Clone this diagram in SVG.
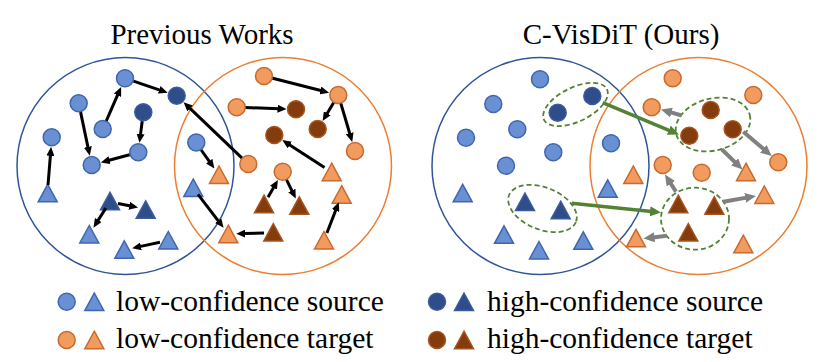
<svg xmlns="http://www.w3.org/2000/svg" xmlns:xlink="http://www.w3.org/1999/xlink" width="830" height="362" viewBox="0 0 830 362">
<style>
text{font-family:"Liberation Serif","Times New Roman",serif;fill:#000}
.title{font-size:29px;text-anchor:middle}
.leg{font-size:29.5px}
.bigb{fill:none;stroke:#2F5597;stroke-width:1.5}
.bigo{fill:none;stroke:#ED7D31;stroke-width:1.5}
.lb{fill:#6A90D4;stroke:#3F66AE;stroke-width:1.5}
.db{fill:#2F4D89;stroke:#3A5C9C;stroke-width:1.5}
.lo{fill:#F29B5E;stroke:#C8692D;stroke-width:1.5}
.br{fill:#843C0C;stroke:#A4541F;stroke-width:1.5}
.blk{stroke:#000;stroke-width:3;fill:none;marker-end:url(#ahb)}
.gry{stroke:#808080;stroke-width:4;fill:none;marker-end:url(#ahg)}
.grn{stroke:#548235;stroke-width:3.5;fill:none;marker-end:url(#ahgr)}
.dash{fill:none;stroke:#548235;stroke-width:1.8;stroke-dasharray:5 3}
</style>
<defs>
<path id="tri" d="M0,-9 L9.5,8.5 L-9.5,8.5 Z"/>
<marker id="ahb" markerUnits="userSpaceOnUse" markerWidth="9" markerHeight="8" refX="1.5" refY="4" orient="auto"><path d="M0,0 L9,4 L0,8 Z" fill="#000"/></marker>
<marker id="ahg" markerUnits="userSpaceOnUse" markerWidth="11" markerHeight="10" refX="1.5" refY="5" orient="auto"><path d="M0,0 L11,5 L0,10 Z" fill="#808080"/></marker>
<marker id="ahgr" markerUnits="userSpaceOnUse" markerWidth="11" markerHeight="10" refX="1.5" refY="5" orient="auto"><path d="M0,0 L11,5 L0,10 Z" fill="#548235"/></marker>
</defs>
<rect width="830" height="362" fill="#fff"/>

<text class="title" x="202" y="44">Previous Works</text>
<text class="title" x="621" y="44">C-VisDiT (Ours)</text>

<g id="domains">
<circle class="bigb" cx="125.5" cy="166" r="108.5"/>
<circle class="bigo" cx="283" cy="166" r="108.5"/>
<circle class="bigb" cx="540.5" cy="166" r="108.5"/>
<circle class="bigo" cx="698.5" cy="166" r="108.5"/>
</g>

<g id="left-nodes">
<g id="L1"><circle class="lb" cx="125" cy="78.3" r="8.5"/></g>
<g id="L2"><circle class="db" cx="176.7" cy="95.7" r="8.5"/></g>
<g id="L3"><circle class="lb" cx="78.7" cy="103.3" r="8.5"/></g>
<g id="L4"><circle class="lb" cx="102.7" cy="129" r="8.5"/></g>
<g id="L5"><circle class="db" cx="143.3" cy="112.3" r="8.5"/></g>
<g id="L6"><circle class="lb" cx="51.7" cy="137.3" r="8.5"/></g>
<g id="L7"><circle class="lb" cx="138.3" cy="152.3" r="8.5"/></g>
<g id="L8"><circle class="lb" cx="91.7" cy="165" r="8.5"/></g>
<g id="L9"><circle class="lb" cx="196.3" cy="142.5" r="8.5"/></g>
<g id="L10"><use href="#tri" class="lb" x="47.7" y="193.3"/></g>
<g id="L11"><use href="#tri" class="db" x="110" y="201.3"/></g>
<g id="L12"><use href="#tri" class="db" x="145.7" y="209.8"/></g>
<g id="L13"><use href="#tri" class="lb" x="89.3" y="234.5"/></g>
<g id="L14"><use href="#tri" class="lb" x="168.3" y="240.5"/></g>
<g id="L15"><use href="#tri" class="lb" x="124.3" y="249.8"/></g>
<g id="L16"><use href="#tri" class="lb" x="193.3" y="188"/></g>
<g id="L17"><circle class="lo" cx="264" cy="76" r="8.5"/></g>
<g id="L18"><circle class="lo" cx="338.3" cy="95" r="8.5"/></g>
<g id="L19"><circle class="lo" cx="236.7" cy="107.3" r="8.5"/></g>
<g id="L20"><circle class="br" cx="296" cy="109.3" r="8.5"/></g>
<g id="L21"><circle class="br" cx="317.7" cy="129" r="8.5"/></g>
<g id="L22"><circle class="br" cx="274.3" cy="135" r="8.5"/></g>
<g id="L23"><circle class="lo" cx="355" cy="151" r="8.5"/></g>
<g id="L24"><circle class="lo" cx="248.3" cy="164" r="8.5"/></g>
<g id="L25"><circle class="lo" cx="282.7" cy="171.7" r="8.5"/></g>
<g id="L26"><use href="#tri" class="lo" x="219" y="175"/></g>
<g id="L27"><use href="#tri" class="lo" x="331.7" y="172.2"/></g>
<g id="L28"><use href="#tri" class="lo" x="341.7" y="194.7"/></g>
<g id="L29"><use href="#tri" class="br" x="264" y="204.2"/></g>
<g id="L30"><use href="#tri" class="br" x="299.3" y="205.8"/></g>
<g id="L31"><use href="#tri" class="lo" x="228.3" y="234.2"/></g>
<g id="L32"><use href="#tri" class="br" x="273.3" y="232.5"/></g>
<g id="L33"><use href="#tri" class="lo" x="324" y="240.5"/></g>
</g>

<g id="right-nodes">
<g id="R1"><circle class="lb" cx="540" cy="79.3" r="8.5"/></g>
<g id="R2"><circle class="lb" cx="493.3" cy="104" r="8.5"/></g>
<g id="R3"><circle class="db" cx="592.3" cy="96" r="8.5"/></g>
<g id="R4"><circle class="db" cx="557.7" cy="112.7" r="8.5"/></g>
<g id="R5"><circle class="lb" cx="517.3" cy="129.3" r="8.5"/></g>
<g id="R6"><circle class="lb" cx="466" cy="137.7" r="8.5"/></g>
<g id="R7"><circle class="lb" cx="553.3" cy="152.3" r="8.5"/></g>
<g id="R8"><circle class="lb" cx="506" cy="165.7" r="8.5"/></g>
<g id="R9"><circle class="lb" cx="611" cy="143.3" r="8.5"/></g>
<g id="R10"><use href="#tri" class="lb" x="462.7" y="193.3"/></g>
<g id="R11"><use href="#tri" class="lb" x="607.7" y="188.8"/></g>
<g id="R12"><use href="#tri" class="db" x="525" y="202"/></g>
<g id="R13"><use href="#tri" class="db" x="560.7" y="210.2"/></g>
<g id="R14"><use href="#tri" class="lb" x="504" y="234.8"/></g>
<g id="R15"><use href="#tri" class="lb" x="583.3" y="240.8"/></g>
<g id="R16"><use href="#tri" class="lb" x="539" y="250.5"/></g>
<g id="R17"><circle class="lo" cx="672.7" cy="78.3" r="8.5"/></g>
<g id="R18"><circle class="lo" cx="753.3" cy="95" r="8.5"/></g>
<g id="R19"><circle class="lo" cx="651.7" cy="107.3" r="8.5"/></g>
<g id="R20"><circle class="br" cx="710.7" cy="110" r="8.5"/></g>
<g id="R21"><circle class="br" cx="732.7" cy="129.3" r="8.5"/></g>
<g id="R22"><circle class="br" cx="689.3" cy="135.7" r="8.5"/></g>
<g id="R23"><circle class="lo" cx="778.3" cy="162.3" r="8.5"/></g>
<g id="R24"><circle class="lo" cx="662.7" cy="165" r="8.5"/></g>
<g id="R25"><circle class="lo" cx="701.7" cy="172.7" r="8.5"/></g>
<g id="R26"><use href="#tri" class="lo" x="633.3" y="175"/></g>
<g id="R27"><use href="#tri" class="lo" x="746" y="172.2"/></g>
<g id="R28"><use href="#tri" class="lo" x="764.3" y="195"/></g>
<g id="R29"><use href="#tri" class="br" x="678.3" y="204.2"/></g>
<g id="R30"><use href="#tri" class="br" x="714.3" y="205.8"/></g>
<g id="R31"><use href="#tri" class="br" x="688.3" y="232.5"/></g>
<g id="R32"><use href="#tri" class="lo" x="636" y="238.3"/></g>
<g id="R33"><use href="#tri" class="lo" x="743.3" y="244.2"/></g>
</g>

<g id="clusters">
<ellipse class="dash" cx="575.5" cy="104.5" rx="35" ry="17" transform="rotate(-26 575.5 104.5)"/>
<ellipse class="dash" cx="542.5" cy="208.5" rx="36" ry="21" transform="rotate(22 542.5 208.5)"/>
<ellipse class="dash" cx="713" cy="124.5" rx="38" ry="26" transform="rotate(-15 713 124.5)"/>
<ellipse class="dash" cx="695" cy="218.7" rx="34" ry="31"/>
</g>

<g id="connectors">
<line class="blk" x1="48" y1="185" x2="50.5" y2="154.3"/>
<line class="blk" x1="80.6" y1="112.1" x2="88.2" y2="148.4"/>
<line class="blk" x1="106.3" y1="120.8" x2="118.1" y2="93.9"/>
<line class="blk" x1="133.5" y1="81.2" x2="160.6" y2="90.3"/>
<line class="blk" x1="142.2" y1="121.2" x2="140.4" y2="135.4"/>
<line class="blk" x1="129.6" y1="154.7" x2="108.1" y2="160.5"/>
<line class="blk" x1="118" y1="203.5" x2="130.7" y2="206"/>
<line class="blk" x1="105.8" y1="208.1" x2="97.5" y2="221.3"/>
<line class="blk" x1="160" y1="242.3" x2="139.5" y2="246.6"/>
<line class="blk" x1="241.8" y1="157.8" x2="189" y2="107.4"/>
<line class="blk" x1="201.2" y1="150" x2="210" y2="162.4"/>
<line class="blk" x1="198" y1="194.4" x2="219" y2="221.8"/>
<line class="blk" x1="264" y1="233" x2="243.8" y2="233.6"/>
<line class="blk" x1="272.7" y1="78.2" x2="321.8" y2="90.8"/>
<line class="blk" x1="245.7" y1="107.6" x2="279" y2="108.7"/>
<line class="blk" x1="333.6" y1="102.7" x2="326.5" y2="114.5"/>
<line class="blk" x1="340.9" y1="103.6" x2="350.1" y2="134.7"/>
<line class="blk" x1="324.5" y1="167.5" x2="288.6" y2="144.2"/>
<line class="blk" x1="268" y1="197.3" x2="274.2" y2="186.4"/>
<line class="blk" x1="286.6" y1="179.8" x2="292.5" y2="191.8"/>
<line class="blk" x1="326.9" y1="233" x2="336.1" y2="209.2"/>
<line class="gry" x1="681.7" y1="115.5" x2="670.1" y2="112.2"/>
<line class="gry" x1="743.3" y1="131.7" x2="764.5" y2="149.8"/>
<line class="gry" x1="721.7" y1="149.3" x2="735.7" y2="162.9"/>
<line class="gry" x1="676" y1="191.7" x2="670.1" y2="182.5"/>
<line class="gry" x1="723.3" y1="201.7" x2="746.6" y2="197.6"/>
<line class="gry" x1="666.7" y1="235.7" x2="652.9" y2="237.4"/>
<line class="grn" x1="602.7" y1="102.7" x2="670.2" y2="130.8"/>
<line class="grn" x1="571.7" y1="203.3" x2="651.5" y2="211.5"/>
</g>

<g id="legend">
<circle class="lb" cx="66.7" cy="301.7" r="8.5"/>
<use href="#tri" class="lb" x="94.3" y="302"/>
<text class="leg" x="116" y="311">low-confidence source</text>
<circle class="lo" cx="66.7" cy="340" r="8.5"/>
<use href="#tri" class="lo" x="94.3" y="340.2"/>
<text class="leg" x="116" y="348">low-confidence target</text>
<circle class="db" cx="437" cy="301.7" r="8.5"/>
<use href="#tri" class="db" x="464" y="302"/>
<text class="leg" x="487" y="311">high-confidence source</text>
<circle class="br" cx="437" cy="340" r="8.5"/>
<use href="#tri" class="br" x="464" y="340.2"/>
<text class="leg" x="487" y="348">high-confidence target</text>
</g>
</svg>
